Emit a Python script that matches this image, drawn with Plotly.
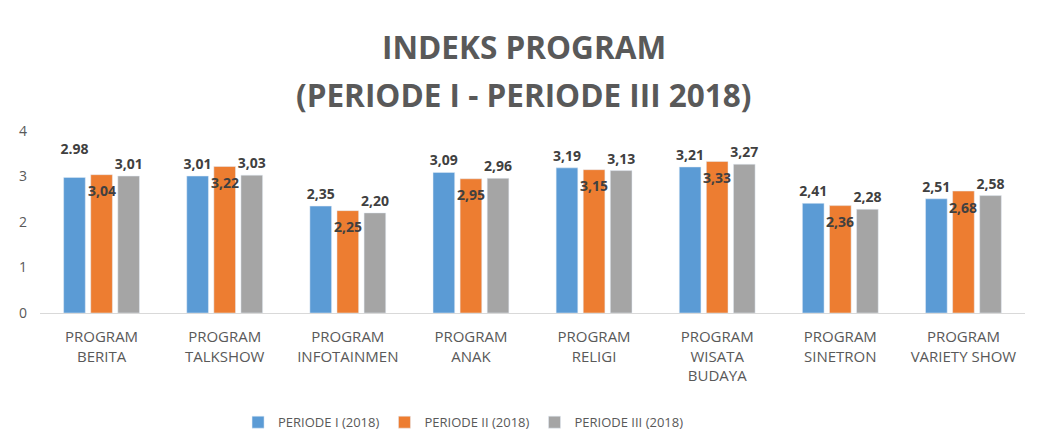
import plotly.graph_objects as go

categories = ["PROGRAM<br>BERITA", "PROGRAM<br>TALKSHOW", "PROGRAM<br>INFOTAINMEN", "PROGRAM<br>ANAK",
              "PROGRAM<br>RELIGI", "PROGRAM<br>WISATA<br>BUDAYA", "PROGRAM<br>SINETRON", "PROGRAM<br>VARIETY SHOW"]
periode1 = [2.98, 3.01, 2.35, 3.09, 3.19, 3.21, 2.41, 2.51]
periode2 = [3.04, 3.22, 2.25, 2.95, 3.15, 3.33, 2.36, 2.68]
periode3 = [3.01, 3.03, 2.20, 2.96, 3.13, 3.27, 2.28, 2.58]
series_names = ["PERIODE I (2018)", "PERIODE II (2018)", "PERIODE III (2018)"]
colors = ["#5B9BD5", "#ED7D31", "#A5A5A5"]
title_lines = ["INDEKS PROGRAM", "(PERIODE I - PERIODE III 2018)"]


def fmt(v):
    return f"{v:.2f}".replace(".", ",")


labels1 = [fmt(v) for v in periode1]
labels1[0] = "2.98<br><span style='font-size:8px'> </span>"
labels2 = [fmt(v) for v in periode2]
labels3 = [fmt(v) for v in periode3]

label_font = dict(family="Open Sans", size=14, color="#404040", weight="bold")

fig = go.Figure()
fig.add_trace(go.Bar(x=categories, y=periode1, name=series_names[0], marker_color=colors[0],
                     text=labels1, textposition="outside", textfont=label_font, cliponaxis=False,
                     constraintext="none"))
fig.add_trace(go.Bar(x=categories, y=periode2, name=series_names[1], marker_color=colors[1]))
fig.add_trace(go.Bar(x=categories, y=periode3, name=series_names[2], marker_color=colors[2],
                     text=labels3, textposition="outside", textfont=label_font, cliponaxis=False,
                     constraintext="none"))
# Periode II labels sit just below the top of the middle bar
for cat, val, lab in zip(categories, periode2, labels2):
    fig.add_annotation(x=cat, y=val, text=lab, showarrow=False, yanchor="middle", yshift=-16,
                       font=label_font)

PLOT_TOP = 123
PLOT_H = 182
title_centers = [39, 86]
for line, yc in zip(title_lines, title_centers):
    fig.add_annotation(text=line, xref="paper", yref="paper", x=0.491, y=1 + (PLOT_TOP - yc) / PLOT_H,
                       xanchor="center", yanchor="middle", showarrow=False,
                       font=dict(family="Open Sans", size=31.5, color="#595959", weight="bold"))

fig.update_layout(
    width=1049, height=436,
    margin=dict(l=32, r=32, t=PLOT_TOP, b=131, autoexpand=False),
    paper_bgcolor="white", plot_bgcolor="white",
    barmode="group", bargap=0.34, bargroupgap=0.2,
    font=dict(family="Open Sans", color="#595959"),
    legend=dict(orientation="h", x=0.43, xanchor="center", y=-0.6, yanchor="middle",
                font=dict(size=13, color="#595959"), itemwidth=30, traceorder="normal"),
    showlegend=True,
)
fig.update_xaxes(showline=True, linecolor="#D9D9D9", linewidth=1, ticks="", automargin=False,
                 tickfont=dict(size=15, color="#595959"), showgrid=False, ticklabelstandoff=10)
fig.update_yaxes(range=[0, 4], dtick=1, showgrid=False, zeroline=False, automargin=False,
                 tickfont=dict(size=14, color="#595959"), ticklabelstandoff=12)

fig.write_html("out.html")
